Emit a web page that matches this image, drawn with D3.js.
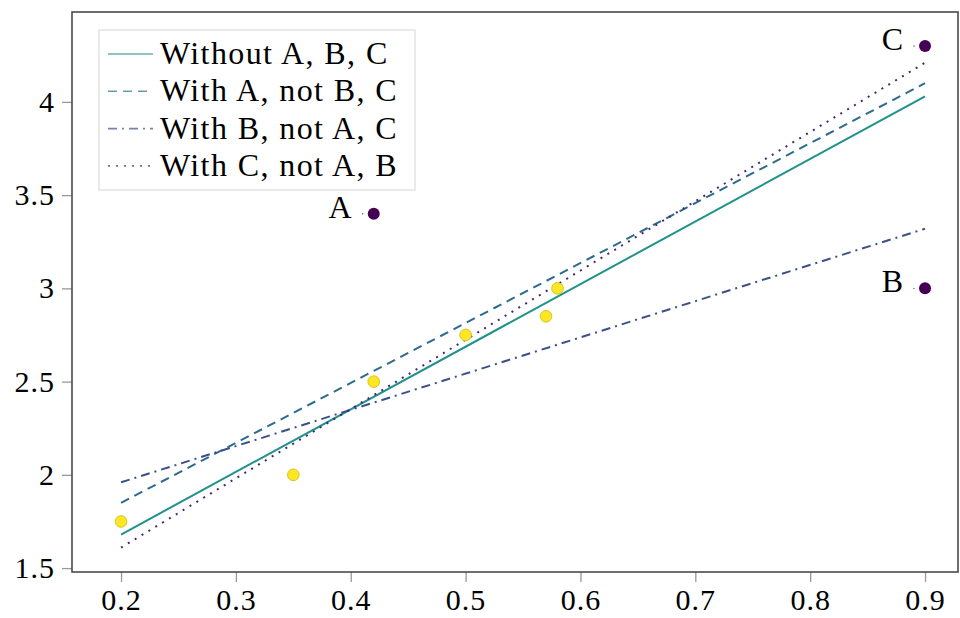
<!DOCTYPE html>
<html>
<head>
<meta charset="utf-8">
<script src="https://cdn.jsdelivr.net/npm/d3@7"></script>
<style>
  body { margin: 0; background: #fff; }
  text { font-family: "Liberation Serif", "DejaVu Serif", serif; fill: #000; }
</style>
</head>
<body>
<svg id="chart" width="960" height="618"></svg>
<script>
// Data
var xTicks = [0.2, 0.3, 0.4, 0.5, 0.6, 0.7, 0.8, 0.9];
var yTicks = [1.5, 2, 2.5, 3, 3.5, 4];
var inliers = [[0.2, 1.75], [0.35, 2.0], [0.42, 2.5], [0.5, 2.75], [0.57, 2.85], [0.58, 3.0]];
var outliers = [
  { name: "A", x: 0.42, y: 3.4 },
  { name: "B", x: 0.9, y: 3.0 },
  { name: "C", x: 0.9, y: 4.3 }
];
var fitNames = ["Without A, B, C", "With A, not B, C", "With B, not A, C", "With C, not A, B"];
var fitX = [0.2, 0.9];
var fitY = [[1.68, 4.03], [1.85, 4.10], [1.96, 3.32], [1.61, 4.21]];
var fitColors = ["#21918c", "#2c6b8e", "#3b4f8a", "#482475"];
var fitDash = ["none", "9,6", "9,5,2,5", "2,6"];

var svg = d3.select("#chart");
var margin = { left: 72, right: 2, top: 12, bottom: 46 };
var width = 960 - margin.left - margin.right;
var height = 618 - margin.top - margin.bottom;

// Scales
var x = d3.scaleLinear().domain([0.1573, 0.9287]).range([margin.left, margin.left + width]);
var y = d3.scaleLinear().domain([1.479, 4.482]).range([margin.top + height, margin.top]);

// Axes (ticks outside, gray)
var xAxis = svg.append("g").attr("transform", "translate(0," + (margin.top + height) + ")")
  .call(d3.axisBottom(x).tickValues(xTicks).tickSize(10).tickPadding(6).tickFormat(d3.format("")));
var yAxis = svg.append("g").attr("transform", "translate(" + margin.left + ",0)")
  .call(d3.axisLeft(y).tickValues(yTicks).tickSize(10).tickPadding(7).tickFormat(d3.format("")));
[xAxis, yAxis].forEach(function(a) {
  a.select(".domain").remove();
  a.selectAll(".tick line").attr("stroke", "#999").attr("stroke-width", 1.3);
  a.selectAll(".tick text")
    .attr("font-size", 30)
    .attr("letter-spacing", 1)
    .style("font-family", "'Liberation Serif', serif");
});
xAxis.selectAll(".tick text").attr("dy", "0.72em");

// Frame
svg.append("rect")
  .attr("x", margin.left).attr("y", margin.top)
  .attr("width", width).attr("height", height)
  .attr("fill", "none").attr("stroke", "#4a4a4a").attr("stroke-width", 1.6);

// Fit lines
var line = d3.line().x(function(d) { return x(d[0]); }).y(function(d) { return y(d[1]); });
fitY.forEach(function(ys, i) {
  svg.append("path")
    .datum(fitX.map(function(v, j) { return [v, ys[j]]; }))
    .attr("d", line)
    .attr("fill", "none")
    .attr("stroke", fitColors[i])
    .attr("stroke-width", 2)
    .attr("stroke-dasharray", fitDash[i]);
});

// Inlier points
svg.selectAll("circle.inlier").data(inliers).enter().append("circle")
  .attr("class", "inlier")
  .attr("cx", function(d) { return x(d[0]); })
  .attr("cy", function(d) { return y(d[1]); })
  .attr("r", 5.8)
  .attr("fill", "#fde725")
  .attr("stroke", "#d9c41c")
  .attr("stroke-width", 1);

// Outlier points with labels
var out = svg.selectAll("g.outlier").data(outliers).enter().append("g").attr("class", "outlier");
out.append("circle")
  .attr("cx", function(d) { return x(d.x); })
  .attr("cy", function(d) { return y(d.y); })
  .attr("r", 6)
  .attr("fill", "#440154");
out.append("circle")
  .attr("cx", function(d) { return x(d.x) - 11; })
  .attr("cy", function(d) { return y(d.y); })
  .attr("r", 0.7)
  .attr("fill", "#555");
out.append("text")
  .attr("x", function(d) { return x(d.x) - 21; })
  .attr("y", function(d) { return y(d.y) + 4; })
  .attr("text-anchor", "end")
  .attr("font-size", 32)
  .attr("letter-spacing", 1)
  .text(function(d) { return d.name; });

// Legend
var legend = svg.append("g").attr("transform", "translate(99,30)");
legend.append("rect")
  .attr("width", 316).attr("height", 160)
  .attr("fill", "#fff").attr("stroke", "#ddd").attr("stroke-width", 1.2);
fitNames.forEach(function(name, i) {
  var cy = 24 + i * 37.3;
  legend.append("line")
    .attr("x1", 9).attr("x2", 54).attr("y1", cy).attr("y2", cy)
    .attr("stroke", fitColors[i]).attr("stroke-opacity", 0.7)
    .attr("stroke-width", 1.6)
    .attr("stroke-dasharray", fitDash[i]);
  legend.append("text")
    .attr("x", 61).attr("y", cy + 10)
    .attr("font-size", 32)
    .attr("letter-spacing", 1.4)
    .text(name);
});
</script>
</body>
</html>
